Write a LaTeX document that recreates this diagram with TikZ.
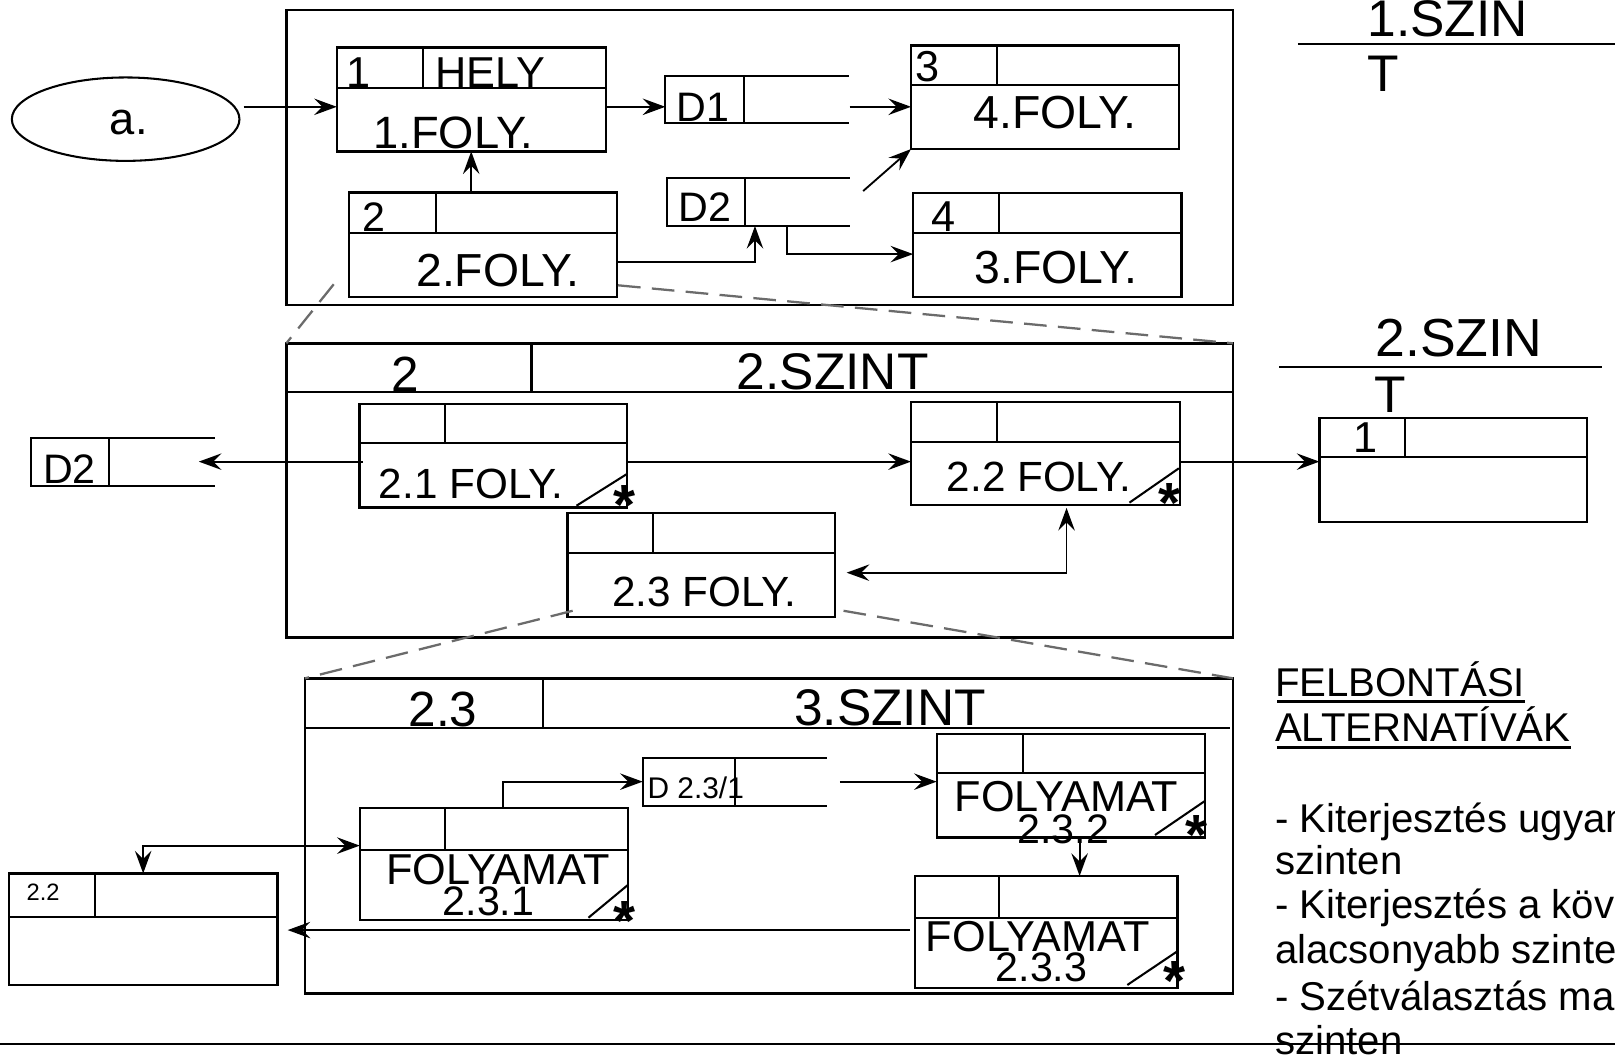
\documentclass[tikz,border=0pt]{standalone}
\usepackage{fontspec}
\setmainfont{Liberation Sans}
\usetikzlibrary{arrows.meta,shapes.geometric,calc}
\newcommand\myfs[1]{\fontsize{#1}{#1}\selectfont}
\tikzset{
  pbox/.style={draw, line width=2.2pt, inner sep=0pt, outer sep=0pt, anchor=north west},
  frame/.style={draw, line width=2.4pt, inner sep=0pt, outer sep=0pt, anchor=north west},
  dbox/.style={inner sep=0pt, outer sep=0pt, anchor=north west},
  ln/.style={line width=2pt},
  arr/.style={line width=1.8pt, -{Stealth[length=22pt,width=16pt,inset=8pt]}},
  arrb/.style={line width=1.8pt, {Stealth[length=22pt,width=16pt,inset=8pt]}-{Stealth[length=22pt,width=16pt,inset=8pt]}},
  dashln/.style={line width=2.2pt, color=black!58, dash pattern=on 22pt off 11pt},
  lbl/.style={inner sep=0pt, outer sep=0pt, anchor=base},
  tx/.style={inner sep=0pt, outer sep=0pt, anchor=base west, font=\myfs{39}},
  astk/.style={inner sep=0pt, outer sep=0pt, anchor=north, font=\myfs{55}\bfseries},
}
\newcommand\procbox[7]{%
  \node[pbox, minimum width={(#4-#2)*1pt}, minimum height={(#5-#3)*1pt}] (#1) at (#2,#3) {};
  \draw[ln] (#2,#6) -- (#4,#6);
  \draw[ln] (#7,#3) -- (#7,#6);
}
\newcommand\dstore[6]{%
  \node[dbox, minimum width={(#4-#2)*1pt}, minimum height={(#5-#3)*1pt}] (#1) at (#2,#3) {};
  \draw[ln] (#4,#3) -- (#2,#3) -- (#2,#5) -- (#4,#5);
  \draw[ln] (#6,#3) -- (#6,#5);
}
\begin{document}
\begin{tikzpicture}[x=1pt,y=-1pt]
\useasboundingbox (0,0) rectangle (1568,1027);
\clip (0,0) rectangle (1568,1027);
\fill[white] (0,0) rectangle (1568,1027);

% ---------------- level 1 ----------------
\node[frame, minimum width=919pt, minimum height=286.5pt] (l1) at (278,9.7) {};
\node[draw, ellipse, line width=2pt, minimum width=221pt, minimum height=81pt, inner sep=0pt] (ell) at (122,115.7) {};
\node[lbl, font=\myfs{44}] (ta) at (125,131) {a.};

\procbox{b1}{327}{46}{588}{147}{85}{411}
\node[lbl, font=\myfs{42}] (b1n) at (348,84.5) {1};
\node[lbl, font=\myfs{42}] (b1h) at (476,84.5) {HELY};
\node[lbl, font=\myfs{44}] (b1t) at (440,144) {1.FOLY.};

\procbox{b2}{339}{187}{599}{288}{226}{423}
\node[lbl, font=\myfs{40}] (b2n) at (363.5,225) {2};
\node[lbl, font=\myfs{45}] (b2t) at (483.4,278.3) {2.FOLY.};

\procbox{b3}{884.5}{44.3}{1145}{144.7}{82.5}{968}
\node[lbl, font=\myfs{42}] (b3n) at (901,79.3) {3};
\node[lbl, font=\myfs{45}] (b3t) at (1024.3,124.6) {4.FOLY.};

\procbox{b4}{886.6}{187.7}{1147}{288}{226.5}{970}
\node[lbl, font=\myfs{42}] (b4n) at (916.5,225) {4};
\node[lbl, font=\myfs{45}] (b4t) at (1025.4,275) {3.FOLY.};

\dstore{d1}{646}{73.8}{824}{119.7}{722}
\node[lbl, font=\myfs{40}] (d1t) at (682.6,118) {D1};
\dstore{d2}{648}{172.5}{825}{219.4}{723}
\node[lbl, font=\myfs{40}] (d2t) at (684.5,215) {D2};

\coordinate (ya) at (0,103.7);
\draw[arr] ($(ell.east |- ya)+(3,0)$) -- (b1.west |- ya);
\draw[arr] (b1.east |- ya) -- (d1.west |- ya);
\draw[arr] ($(d1.east |- ya)+(1,0)$) -- (b3.west |- ya);
\draw[arr] (b1.south |- b2.north) -- (b1.south);
\coordinate (dgs) at (838,185.5);
\draw[arr] (dgs) -- (b3.south west);
\coordinate (yb) at (0,254);
\draw[arr] (b2.east |- yb) -| ($(d2.south)+(-3.5,0)$);
\coordinate (yc) at (0,246.7);
\draw[arr] ($(d2.south)+(27.5,0)$) |- (b4.west |- yc);

% ---------------- right headings ----------------
\node[lbl, font=\myfs{50}] (s1) at (1405.4,35) {1.SZIN};
\draw[ln] (1260,43) -- (1568,43);
\node[lbl, font=\myfs{50}] (s1t) at (1342.8,89) {T};
\node[lbl, font=\myfs{52}] (s2) at (1416.4,346.3) {2.SZIN};
\draw[ln] (1241.8,356) -- (1555.7,356);
\node[lbl, font=\myfs{50}] (s2t) at (1349.5,400.7) {T};

% ---------------- level 2 ----------------
\coordinate (dla) at (324,276);
\coordinate (dra) at (600,277);
\node[frame, minimum width=919pt, minimum height=285.5pt] (l2) at (278,333.3) {};
\draw[dashln] (dla) -- (l2.north west);
\draw[dashln] (dra) -- (l2.north east);
\draw[ln] (278,380.3) -- (1197,380.3);
\draw[ln] (516,333.3) -- (516,380.3);
\node[lbl, font=\myfs{48}] (l2n) at (393.7,380) {2};
\node[lbl, font=\myfs{50}] (l2t) at (808.4,378.6) {2.SZINT};

\procbox{b21}{349}{392.3}{609}{492.6}{429.8}{432}
\node[lbl, font=\myfs{41}] (b21t) at (457.2,483.8) {2.1 FOLY.};
\draw[ln] (559.7,491) -- (609,460);
\node[astk] (b21s) at (606,471) {*};

\procbox{b22}{884.5}{390}{1145.3}{490.6}{428.8}{968}
\node[lbl, font=\myfs{41}] (b22t) at (1008.6,477.4) {2.2 FOLY.};
\draw[ln] (1096.6,488) -- (1144.5,454.7);
\node[astk] (b22s) at (1135,469) {*};

\procbox{b23}{551}{498.4}{811}{598.7}{537.3}{634}
\node[lbl, font=\myfs{41}] (b23t) at (683.6,589) {2.3 FOLY.};

\dstore{d2l}{30}{425}{208.5}{471.5}{106}
\node[lbl, font=\myfs{40}] (d2lt) at (67.5,469) {D2};

\procbox{r1}{1281}{405.5}{1541.1}{506.5}{443.4}{1364}
\node[lbl, font=\myfs{42}] (r1n) at (1326,439.5) {1};

\coordinate (yd) at (0,448.2);
\draw[arr] ($(b21.west |- yd)+(3,0)$) -- ($(d2l.east |- yd)+(-15.5,0)$);
\draw[arr] (b21.east |- yd) -- (b22.west |- yd);
\draw[arr] (b22.east |- yd) -- (r1.west |- yd);
\coordinate (ye) at (0,556);
\draw[arrb] ($(b23.east |- ye)+(11,0)$) -| ($(b22.south)+(20.6,2.5)$);

% ---------------- level 3 ----------------
\coordinate (dlb) at (556,593);
\coordinate (drb) at (819,593);
\node[frame, minimum width=901pt, minimum height=305.8pt] (l3) at (296,658.6) {};
\draw[dashln] (dlb) -- (l3.north west);
\draw[dashln] (drb) -- (l3.north east);
\draw[ln] (296,706.5) -- (1194,706.5);
\draw[ln] (527,658.6) -- (527,706.5);
\node[lbl, font=\myfs{48}] (l3n) at (430,705.5) {2.3};
\node[lbl, font=\myfs{50}] (l3t) at (864,704) {3.SZINT};

\dstore{d231}{624}{735.6}{802.5}{782.2}{713.3}
\node[lbl, font=\myfs{29}] (d231t) at (675.5,775) {D 2.3/1};

\procbox{b231}{349.3}{784.2}{609.5}{893.2}{825.3}{432.2}
\node[lbl, font=\myfs{42}] (b231a) at (483.4,859.2) {FOLYAMAT};
\node[lbl, font=\myfs{40}] (b231b) at (474.3,888.4) {2.3.1};
\draw[ln] (571.3,891) -- (609.5,859.3);
\node[astk] (b231s) at (606.3,875.4) {*};

\procbox{b232}{909.4}{712.6}{1170.2}{813}{750.2}{993.5}
\node[lbl, font=\myfs{42}] (b232a) at (1035.3,788) {FOLYAMAT};
\node[lbl, font=\myfs{40}] (b232b) at (1032.3,818.8) {2.3.2};
\draw[ln] (1121.4,810.7) -- (1170.2,777.4);
\node[astk] (b232s) at (1161.5,791.3) {*};

\procbox{b233}{888.4}{850.5}{1143.3}{958.9}{891}{969.7}
\node[lbl, font=\myfs{42}] (b233a) at (1007.5,924) {FOLYAMAT};
\node[lbl, font=\myfs{40}] (b233b) at (1011.2,953) {2.3.3};
\draw[ln] (1094.5,956.3) -- (1142.5,924);
\node[astk] (b233s) at (1140.3,933.7) {*};

\procbox{bl22}{8.7}{848}{269.3}{956.3}{890}{92.2}
\node[lbl, font=\myfs{23}] (bl22n) at (41.8,874.5) {2.2};

\coordinate (x9) at (488.7,0);
\draw[arr] (b231.north -| x9) |- (d231.west);
\draw[arr] ($(d231.east)+(13,0)$) -- (b232.west |- d231.east);
\coordinate (x6) at (1048.2,0);
\draw[arr] (b232.south -| x6) -- (b233.north -| x6);
\coordinate (yf) at (0,903);
\draw[arr] ($(b233.west |- yf)+(-4.8,0)$) -- ($(bl22.east |- yf)+(10,0)$);
\coordinate (yg) at (0,821);
\draw[arrb] (bl22.north) |- (b231.west |- yg);

% ---------------- right text ----------------
\node[tx] (h1) at (1238,676) {FELBONTÁSI};
\node[tx] (h2) at (1238,720) {ALTERNATÍVÁK};
\draw[line width=3pt] ($(h1.base west)+(2,5)$) -- ($(h1.base east)+(0,5)$);
\draw[line width=3pt] ($(h2.base west)+(2,5.5)$) -- ($(h2.base east)+(0,5.5)$);
\node[tx] (p1) at (1238,808.4) {- Kiterjesztés ugyan};
\node[tx] (p2) at (1238,849.5) {szinten};
\node[tx] (p3) at (1238,891.6) {- Kiterjesztés a köv};
\node[tx] (p4) at (1238,935.3) {alacsonyabb szinten};
\node[tx] (p5) at (1238,980.6) {- Szétválasztás mag};
\node[tx] (p6) at (1238,1024) {szinten};

\draw[line width=2.5pt] (0,1013.6) -- (1568,1013.6);
\end{tikzpicture}
\end{document}
